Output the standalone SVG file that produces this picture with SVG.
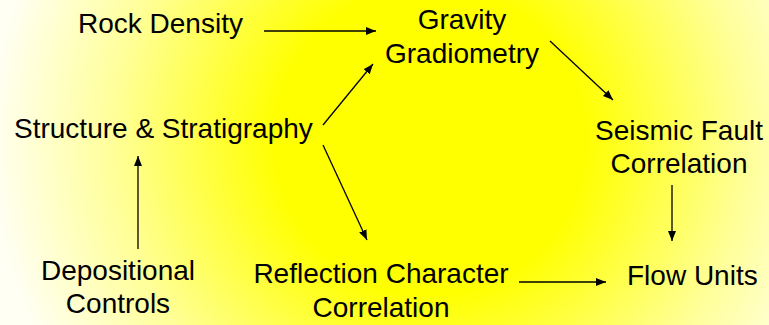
<svg xmlns="http://www.w3.org/2000/svg" width="769" height="325" viewBox="0 0 769 325">
<defs>
<radialGradient id="bg" gradientUnits="userSpaceOnUse" cx="430" cy="140" r="440">
<stop offset="0" stop-color="#FFFF00"/>
<stop offset="0.35" stop-color="#FFFF00"/>
<stop offset="0.72" stop-color="#FFFF99"/>
<stop offset="1" stop-color="#FFFFF4"/>
</radialGradient>
<marker id="ah" viewBox="0 0 10 8" refX="10" refY="4" markerWidth="10" markerHeight="8" markerUnits="userSpaceOnUse" orient="auto">
<path d="M0,0 L10,4 L0,8 Z" fill="#000"/>
</marker>
</defs>
<style>
text{font-family:"Liberation Sans",Arial,sans-serif;font-size:28px;fill:#000}
.c{text-anchor:middle}
line{stroke:#000;stroke-width:1.3;marker-end:url(#ah)}
</style>
<rect width="769" height="325" fill="url(#bg)"/>
<g id="connectors">
<line x1="264" y1="31" x2="376" y2="31"/>
<line x1="323" y1="125" x2="373" y2="64"/>
<line x1="323" y1="145" x2="367" y2="240"/>
<line x1="550" y1="41" x2="613" y2="100"/>
<line x1="672" y1="185" x2="672" y2="241"/>
<line x1="138" y1="249" x2="138" y2="156"/>
<line x1="519" y1="282" x2="606" y2="282"/>
</g>
<g id="rock-density"><text x="78" y="33">Rock Density</text></g>
<g id="gravity-gradiometry"><text class="c" x="462" y="29">Gravity</text><text class="c" x="462" y="63">Gradiometry</text></g>
<g id="structure-stratigraphy"><text x="14" y="138">Structure &amp; Stratigraphy</text></g>
<g id="seismic-fault-correlation"><text class="c" x="679" y="140">Seismic Fault</text><text class="c" x="679" y="173">Correlation</text></g>
<g id="depositional-controls"><text class="c" x="118" y="280">Depositional</text><text class="c" x="118" y="313">Controls</text></g>
<g id="reflection-character-correlation"><text class="c" x="381" y="283">Reflection Character</text><text class="c" x="381" y="317">Correlation</text></g>
<g id="flow-units"><text x="627" y="285">Flow Units</text></g>
</svg>
